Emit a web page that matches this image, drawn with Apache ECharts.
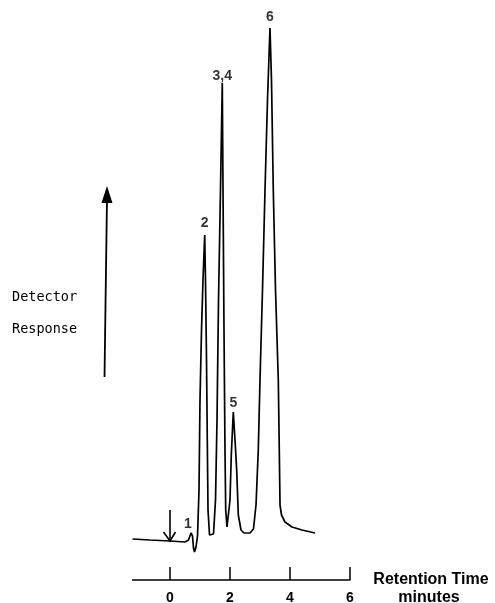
<!DOCTYPE html>
<html>
<head>
<meta charset="utf-8">
<script src="https://cdn.jsdelivr.net/npm/echarts@6/dist/echarts.min.js"></script>
<style>
html,body{margin:0;padding:0;background:#fff;}
#main{width:495px;height:603px;}
</style>
</head>
<body>
<div id="main"></div>
<script>
// Retention time (minutes) and detector response (arbitrary units)
const times = [-1.25,-0.667,0,0.5,0.617,0.7,0.75,0.783,0.817,0.867,0.917,0.967,1.0,1.05,1.1,1.157,1.183,1.217,1.243,1.267,1.317,1.383,1.45,1.517,1.567,1.617,1.683,1.743,1.767,1.8,1.833,1.857,1.9,1.95,2.0,2.043,2.11,2.167,2.223,2.277,2.367,2.467,2.667,2.783,2.867,2.943,3.0,3.083,3.167,3.25,3.333,3.383,3.443,3.517,3.61,3.643,3.667,3.717,3.833,4.067,4.4,4.833];
const response = [1,0,-1,-2,0,7,4,-8,-12,-7,4,50,140,210,260,305,260,180,100,30,5,3,6,40,120,240,350,457,350,210,90,30,13,14,40,85,128,100,70,25,10,7,7,11,35,90,160,250,350,440,512,460,350,250,160,90,35,25,18,13,10,7];

const peakNames = ['1','2','3,4','5','6'];
const peakTimes = [0.7,1.157,1.743,2.11,3.333];
const peakHeights = [7,305,457,128,512];

const tickValues = [0,2,4,6];
const injectionTime = 0;

const chart = echarts.init(document.getElementById('main'), null, {renderer:'canvas'});

const labelDistance = {'1':2,'2':5,'3,4':0,'5':2,'6':4};
const labelOffset = {'1':[-3,0]};

const option = {
  animation:false,
  backgroundColor:'#fff',
  grid:{left:132.5, width:217.5, top:10, height:550, containLabel:false, outerBoundsMode:'none'},
  xAxis:{
    type:'value', min:-1.25, max:6, offset:20,
    axisLine:{show:true, onZero:false, lineStyle:{color:'#000', width:1.5}},
    axisTick:{show:true, inside:true, length:13, customValues:tickValues, lineStyle:{color:'#000', width:1.5}},
    axisLabel:{show:true, customValues:tickValues, margin:11, color:'#000', fontSize:14, fontWeight:'bold', fontFamily:'Liberation Sans'},
    splitLine:{show:false},
    name:'Retention Time',
    nameLocation:'end', nameGap:81,
    nameTextStyle:{color:'#000', fontSize:16, fontWeight:'bold', fontFamily:'Liberation Sans', align:'center', verticalAlign:'middle'}
  },
  yAxis:{type:'value', min:-20, max:530, show:false},
  series:[
    {
      type:'line', name:'Detector Response',
      data: times.map((t,i)=>[t,response[i]]),
      showSymbol:false, symbol:'none',
      lineStyle:{color:'#000', width:1.7},
      clip:false
    },
    {
      type:'scatter', name:'Peaks', symbolSize:0,
      data: peakNames.map((n,i)=>({
        name:n, value:[peakTimes[i],peakHeights[i]],
        label:{distance:labelDistance[n], offset:labelOffset[n]||[0,0]}
      })),
      label:{show:true, position:'top', formatter:p=>p.name, color:'#000', fontSize:14, fontWeight:'bold', fontFamily:'Liberation Sans'},
      silent:true
    }
  ]
};
chart.setOption(option);

const pTop = chart.convertToPixel({gridIndex:0},[injectionTime,30]);
const pTip = chart.convertToPixel({gridIndex:0},[injectionTime,-1]);

chart.setOption({
  graphic:[
    {type:'line', shape:{x1:pTop[0],y1:pTop[1],x2:pTip[0],y2:pTip[1]}, style:{stroke:'#000', lineWidth:1.6}},
    {type:'polyline', shape:{points:[[pTip[0]-6.5,pTip[1]-9],[pTip[0],pTip[1]],[pTip[0]+5.5,pTip[1]-9]]}, style:{stroke:'#000', lineWidth:1.6, fill:null}},
    {type:'line', shape:{x1:104.5,y1:377,x2:107,y2:198}, style:{stroke:'#000', lineWidth:1.8}},
    {type:'polygon', shape:{points:[[107,186],[101.5,203],[112.5,203]]}, style:{fill:'#000'}},
    {type:'text', left:12, top:290, style:{text:'Detector', fill:'#000', font:'13.5px "DejaVu Sans Mono"'}},
    {type:'text', left:12, top:322, style:{text:'Response', fill:'#000', font:'13.5px "DejaVu Sans Mono"'}},
    {type:'text', x:429, y:598, style:{text:'minutes', fill:'#000', font:'bold 16px "Liberation Sans"', align:'center', verticalAlign:'middle'}}
  ]
});
</script>
</body>
</html>
